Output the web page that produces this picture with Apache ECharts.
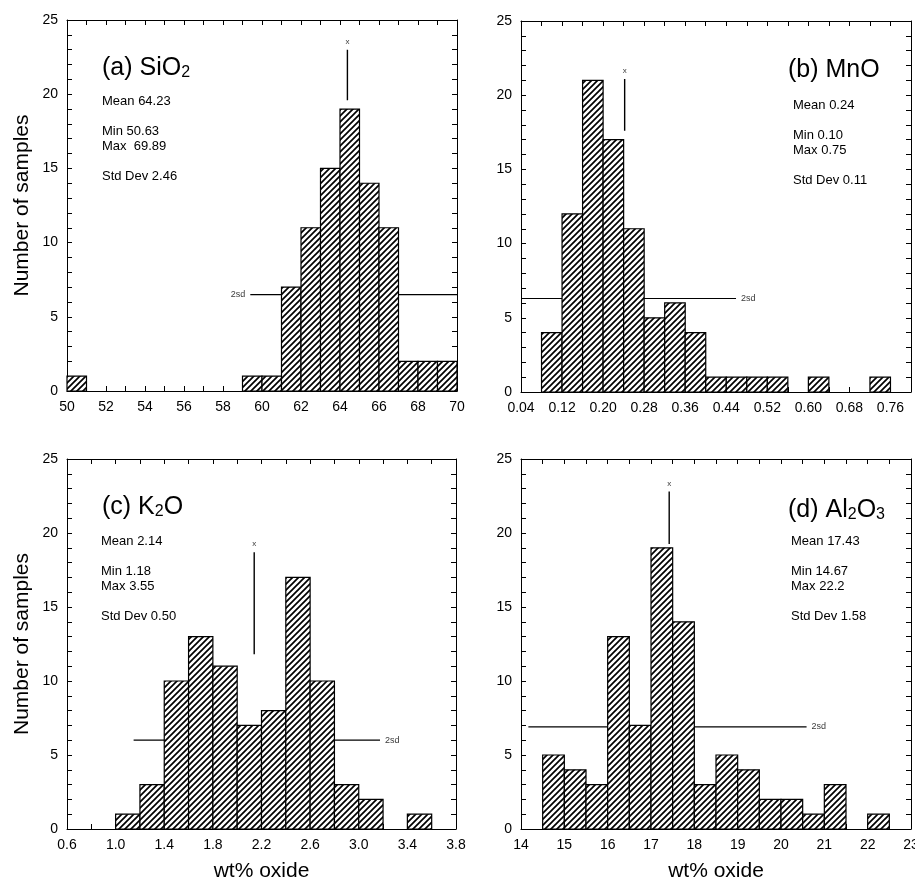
<!DOCTYPE html>
<html>
<head>
<meta charset="utf-8">
<title>Oxide histograms</title>
<script src="https://cdn.jsdelivr.net/npm/echarts@6/dist/echarts.min.js"></script>
<style>
html,body{margin:0;padding:0;background:#fff;}
#chart{width:915px;height:879px;}
</style>
</head>
<body>
<div id="chart"></div>
<script>

// ---------------------------------
// data
// ---------------------------------

// (a) SiO2, bins of 1 wt%
var sio2Bins = [50, 59, 60, 61, 62, 63, 64, 65, 66, 67, 68, 69];
var sio2Counts = [1, 1, 1, 7, 11, 15, 19, 14, 11, 2, 2, 2];
var sio2Width = 1;
var sio2Mean = [64.38, 19.6, 23.0];     // x, line bottom, line top
var sio2Sd = [59.4, 70, 6.5];           // from, to, level

// (b) MnO, bins of 0.04 wt%
var mnoBins = [0.08, 0.12, 0.16, 0.20, 0.24, 0.28, 0.32, 0.36, 0.40, 0.44, 0.48, 0.52, 0.60, 0.72];
var mnoCounts = [4, 12, 21, 17, 11, 5, 6, 4, 1, 1, 1, 1, 1, 1];
var mnoWidth = 0.04;
var mnoMean = [0.242, 17.6, 21.1];
var mnoSd = [0.04, 0.459, 6.3];

// (c) K2O, bins of 0.2 wt%
var k2oBins = [1.0, 1.2, 1.4, 1.6, 1.8, 2.0, 2.2, 2.4, 2.6, 2.8, 3.0, 3.4];
var k2oCounts = [1, 3, 10, 13, 11, 7, 8, 17, 10, 3, 2, 1];
var k2oWidth = 0.2;
var k2oMean = [2.14, 11.8, 18.7];
var k2oSd = [1.148, 3.175, 6.0];

// (d) Al2O3, bins of 0.5 wt%
var al2o3Bins = [14.5, 15, 15.5, 16, 16.5, 17, 17.5, 18, 18.5, 19, 19.5, 20, 20.5, 21, 22];
var al2o3Counts = [5, 4, 3, 13, 7, 19, 14, 3, 5, 4, 2, 2, 1, 3, 1];
var al2o3Width = 0.5;
var al2o3Mean = [17.42, 19.26, 22.8];
var al2o3Sd = [14.17, 20.59, 6.9];

var sio2Stats = "Mean 64.23\n\nMin 50.63\nMax  69.89\n\nStd Dev 2.46";
var mnoStats = "Mean 0.24\n\nMin 0.10\nMax 0.75\n\nStd Dev 0.11";
var k2oStats = "Mean 2.14\n\nMin 1.18\nMax 3.55\n\nStd Dev 0.50";
var al2o3Stats = "Mean 17.43\n\nMin 14.67\nMax 22.2\n\nStd Dev 1.58";

var yName = "Number of samples";
var xName = "wt% oxide";

var FONT = '"Liberation Sans", Arial, Helvetica, sans-serif';



// hatch fill, "/" lines
function makeHatch(){

var s = 6;
var c = document.createElement("canvas");
c.width = s;
c.height = s;
var ctx = c.getContext("2d");
ctx.fillStyle = "#fff";
ctx.fillRect(0, 0, s, s);
ctx.strokeStyle = "#000";
ctx.lineWidth = 1.7;
ctx.beginPath();
ctx.moveTo(-1, s + 1);
ctx.lineTo(s + 1, -1);
ctx.moveTo(-2, 2);
ctx.lineTo(2, -2);
ctx.moveTo(s - 2, s + 2);
ctx.lineTo(s + 2, s - 2);
ctx.stroke();

return c;

}

var hatch = makeHatch();



// one panel
var panels = [

{
rect: {left: 67, top: 20, width: 390, height: 371},
bins: sio2Bins, counts: sio2Counts, width: sio2Width,
mean: sio2Mean, sd: sio2Sd, sdSide: "left",
min: 50, max: 70, step: 1,
label: function(v){
var r = Math.round(v);
return r % 2 === 0 ? String(r) : "";
},
yName: true, xName: false
},

{
rect: {left: 521, top: 21, width: 390, height: 371},
bins: mnoBins, counts: mnoCounts, width: mnoWidth,
mean: mnoMean, sd: mnoSd, sdSide: "right",
min: 0.04, max: 0.80, step: 0.04,
label: function(v){
var k = Math.round((v - 0.04) / 0.04);
return (k % 2 === 0 && k < 19) ? v.toFixed(2) : "";
},
yName: false, xName: false
},

{
rect: {left: 67, top: 459, width: 389, height: 370},
bins: k2oBins, counts: k2oCounts, width: k2oWidth,
mean: k2oMean, sd: k2oSd, sdSide: "right",
min: 0.6, max: 3.8, step: 0.2,
label: function(v){
var k = Math.round((v - 0.6) / 0.2);
return k % 2 === 0 ? v.toFixed(1) : "";
},
yName: true, xName: true
},

{
rect: {left: 521, top: 459, width: 390, height: 370},
bins: al2o3Bins, counts: al2o3Counts, width: al2o3Width,
mean: al2o3Mean, sd: al2o3Sd, sdSide: "right",
min: 14, max: 23, step: 0.5,
label: function(v){
return Math.abs(v - Math.round(v)) < 1e-6 ? String(Math.round(v)) : "";
},
yName: false, xName: true
}

];



var grids = [];
var xAxes = [];
var yAxes = [];
var series = [];

var tick = {inside: true, length: 5, lineStyle: {color: "#000", width: 1}};
var line = {show: true, onZero: false, lineStyle: {color: "#000", width: 1}};


panels.forEach(function(p, i){

grids.push({
left: p.rect.left,
top: p.rect.top,
width: p.rect.width,
height: p.rect.height,
containLabel: false,
outerBoundsMode: "none"
});


// bottom + top x axes
xAxes.push({
type: "value",
gridIndex: i,
position: "bottom",
min: p.min,
max: p.max,
interval: p.step,
axisLine: line,
axisTick: tick,
splitLine: {show: false},
axisLabel: {
color: "#000",
fontSize: 14,
fontFamily: FONT,
margin: 9,
formatter: p.label
},
name: p.xName ? xName : "",
nameLocation: "middle",
nameGap: 32,
nameTextStyle: {color: "#000", fontSize: 21, fontFamily: FONT}
});

xAxes.push({
type: "value",
gridIndex: i,
position: "top",
min: p.min,
max: p.max,
interval: p.step,
axisLine: line,
axisTick: tick,
splitLine: {show: false},
axisLabel: {show: false}
});


// left + right y axes
yAxes.push({
type: "value",
gridIndex: i,
position: "left",
min: 0,
max: 25,
interval: 1,
axisLine: line,
axisTick: tick,
splitLine: {show: false},
axisLabel: {
color: "#000",
fontSize: 14,
fontFamily: FONT,
margin: 9,
formatter: function(v){
return v % 5 === 0 ? String(v) : "";
}
},
name: p.yName ? yName : "",
nameLocation: "middle",
nameGap: 34,
nameTextStyle: {color: "#000", fontSize: 21, fontFamily: FONT}
});

yAxes.push({
type: "value",
gridIndex: i,
position: "right",
min: 0,
max: 25,
interval: 1,
axisLine: line,
axisTick: tick,
splitLine: {show: false},
axisLabel: {show: false}
});


var xi = i * 2;
var yi = i * 2;


// 2sd line, behind the bars
series.push({
type: "line",
xAxisIndex: xi,
yAxisIndex: yi,
z: 1,
symbol: "none",
silent: true,
lineStyle: {color: "#000", width: 1.2},
data: [[p.sd[0], p.sd[2]], [p.sd[1], p.sd[2]]]
});

series.push({
type: "scatter",
xAxisIndex: xi,
yAxisIndex: yi,
z: 1,
symbolSize: 0,
silent: true,
label: {
show: true,
position: p.sdSide,
distance: 5,
formatter: "2sd",
color: "#000",
fontSize: 9,
fontFamily: FONT
},
data: [p.sdSide === "left" ? [p.sd[0], p.sd[2]] : [p.sd[1], p.sd[2]]]
});


// histogram bars
series.push({
type: "custom",
xAxisIndex: xi,
yAxisIndex: yi,
z: 3,
silent: true,
renderItem: function(params, api){
var a = api.coord([api.value(0), 0]);
var b = api.coord([api.value(1), api.value(2)]);
return {
type: "rect",
shape: {x: a[0], y: b[1], width: b[0] - a[0], height: a[1] - b[1]},
style: {fill: {image: hatch, repeat: "repeat"}, stroke: "#000", lineWidth: 1.2}
};
},
encode: {x: [0, 1], y: 2},
data: p.bins.map(function(b, k){
return [b, b + p.width, p.counts[k]];
})
});


// mean marker
series.push({
type: "line",
xAxisIndex: xi,
yAxisIndex: yi,
z: 4,
symbol: "none",
silent: true,
lineStyle: {color: "#000", width: 1.4},
data: [[p.mean[0], p.mean[1]], [p.mean[0], p.mean[2]]]
});

series.push({
type: "scatter",
xAxisIndex: xi,
yAxisIndex: yi,
z: 4,
symbolSize: 0,
silent: true,
label: {
show: true,
position: "top",
distance: 4,
formatter: "x",
color: "#000",
fontSize: 8,
fontFamily: FONT
},
data: [[p.mean[0], p.mean[2]]]
});

});



// panel titles and statistics
function titleItem(left, top, main, sub){

var parts = [];
main.forEach(function(m, k){
parts.push("{t|" + m + "}");
if(sub[k])parts.push("{s|" + sub[k] + "}");
});

return {
left: left,
top: top,
padding: 0,
text: parts.join(""),
textStyle: {
fontWeight: "normal",
rich: {
t: {fontSize: 25, fontWeight: "normal", fontFamily: FONT, color: "#000", lineHeight: 28, verticalAlign: "bottom"},
s: {fontSize: 16, fontWeight: "normal", fontFamily: FONT, color: "#000", lineHeight: 28, verticalAlign: "bottom"}
}
}
};

}

function statsItem(left, top, text){

return {
left: left,
top: top,
padding: 0,
text: text,
textStyle: {fontSize: 13, fontWeight: "normal", fontFamily: FONT, color: "#000", lineHeight: 15}
};

}


var titles = [
titleItem(102, 53, ["(a) SiO"], ["2"]),
titleItem(788, 55, ["(b) MnO"], [""]),
titleItem(102, 492, ["(c) K", "O"], ["2", ""]),
titleItem(788, 495, ["(d) Al", "O"], ["2", "3"]),
statsItem(102, 94, sio2Stats),
statsItem(793, 98, mnoStats),
statsItem(101, 534, k2oStats),
statsItem(791, 534, al2o3Stats)
];



const chart = echarts.init(document.getElementById("chart"));

chart.setOption({
animation: false,
backgroundColor: "#fff",
title: titles,
grid: grids,
xAxis: xAxes,
yAxis: yAxes,
series: series
});

window.addEventListener("resize", ()=>chart.resize());

</script>
</body>
</html>
